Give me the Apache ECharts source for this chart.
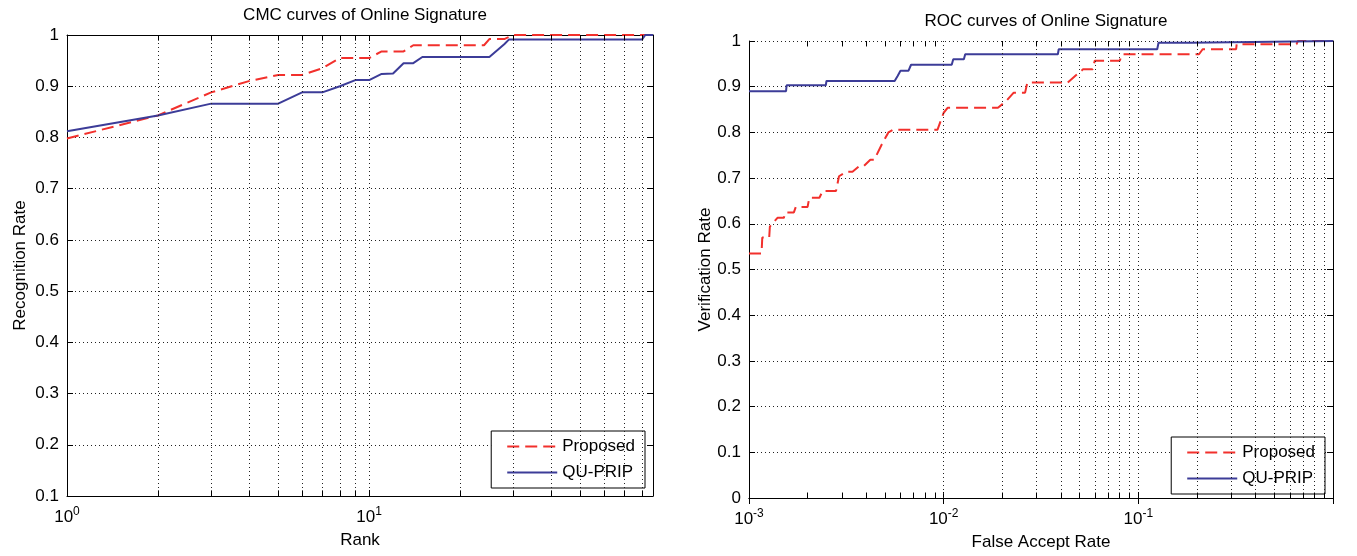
<!DOCTYPE html>
<html><head><meta charset="utf-8">
<script src="https://cdn.jsdelivr.net/npm/echarts@6/dist/echarts.min.js"></script>
<style>html,body{margin:0;padding:0;background:#fff}#c{width:1357px;height:556px}</style>
</head><body><div id="c"></div>
<script>
// ---- data ----
const seriesNames = ['Proposed', 'QU-PRIP'];
const titles = ['CMC curves of Online Signature', 'ROC curves of Online Signature'];
const xNames = ['Rank', 'False Accept Rate'];
const yNames = ['Recognition Rate', 'Verification Rate'];

// CMC: [rank, recognition rate]
const cmcProposed = [[1,0.798],[2,0.843],[3,0.888],[4,0.910],[5,0.922],[6,0.922],[7,0.935],[8,0.955],[10,0.955],[11,0.968],[13,0.968],[14,0.980],[24,0.980],[25,0.992],[28,0.992],[30,1.0],[87,1.0]];
const cmcQuprip = [[1,0.812],[2,0.843],[3,0.866],[5,0.866],[6,0.888],[7,0.888],[8,0.900],[9,0.912],[10,0.912],[11,0.924],[12,0.925],[13,0.945],[14,0.945],[15,0.957],[25,0.957],[28,0.982],[29,0.991],[80,0.991],[82,1.0],[87,1.0]];

// ROC: [false accept rate, verification rate]
const rocProposed = [[0.001,0.535],[0.00116,0.535],[0.00117,0.570],[0.00127,0.570],[0.00128,0.594],[0.0014,0.613],[0.00151,0.613],[0.00154,0.625],[0.0017,0.625],[0.00174,0.637],[0.002,0.637],[0.00204,0.657],[0.0023,0.657],[0.00239,0.672],[0.0028,0.672],[0.0029,0.704],[0.00316,0.714],[0.0034,0.714],[0.0037,0.727],[0.0039,0.727],[0.0042,0.740],[0.0044,0.740],[0.0048,0.773],[0.0052,0.800],[0.0055,0.806],[0.0093,0.806],[0.0100,0.843],[0.0105,0.854],[0.019,0.854],[0.0209,0.868],[0.0229,0.887],[0.0262,0.887],[0.0269,0.909],[0.0433,0.909],[0.0475,0.924],[0.052,0.938],[0.0583,0.938],[0.0597,0.957],[0.0803,0.957],[0.0825,0.971],[0.205,0.971],[0.214,0.982],[0.318,0.982],[0.32,0.993],[0.65,0.993],[0.66,1.0],[1,1.0]];
const rocQuprip = [[0.001,0.890],[0.00155,0.890],[0.00156,0.903],[0.00248,0.903],[0.0025,0.9125],[0.0056,0.9125],[0.0058,0.9235],[0.006,0.935],[0.0066,0.935],[0.0068,0.948],[0.011,0.948],[0.0112,0.960],[0.0127,0.960],[0.0129,0.971],[0.0386,0.971],[0.039,0.982],[0.125,0.982],[0.127,0.996],[0.186,0.996],[0.188,1.0],[1,1.0]];

// axis ranges and minor (log) grid positions
const cmcXRange = [1, 87];
const cmcYRange = [0.1, 1];
const rocXRange = [0.001, 1];
const rocYRange = [0, 1];
const yStep = 0.1;
const cmcMinorX = [2,3,4,5,6,7,8,9,20,30,40,50,60,70,80];
const rocMinorX = [0.002,0.003,0.004,0.005,0.006,0.007,0.008,0.009,0.02,0.03,0.04,0.05,0.06,0.07,0.08,0.09,0.2,0.3,0.4,0.5,0.6,0.7,0.8,0.9];

// ---- styling ----
const RED = '#f2302c', BLUE = '#3c3c98';
const FONT = 'Liberation Sans';
const FS = 17;
const dotted = {color: '#222', type: [1, 3], width: 1};

function logLabel(v) {
  const e = Math.log10(v), r = Math.round(e);
  if (Math.abs(e - r) > 1e-6) return '';
  return '10{sup|' + r + '}';
}
function yLabel(v) { return String(Math.round(v * 10) / 10); }

function minorMarks(xs, yr, tickLen) {
  const data = xs.map(v => ({xAxis: v}));
  xs.forEach(v => {
    data.push([{coord: [v, yr[0]], lineStyle: {type: 'solid', color: '#000'}}, {coord: [v, yr[0] + tickLen]}]);
    data.push([{coord: [v, yr[1]], lineStyle: {type: 'solid', color: '#000'}}, {coord: [v, yr[1] - tickLen]}]);
  });
  return {silent: true, symbol: 'none', animation: false, label: {show: false},
    emphasis: {disabled: true}, lineStyle: dotted, data};
}

function xAxes(grid, range, name, gap) {
  const base = {gridIndex: grid, type: 'log', logBase: 10, min: range[0], max: range[1],
    axisLine: {show: true, lineStyle: {color: '#000', width: 1}},
    axisTick: {show: true, inside: true, length: 6, lineStyle: {color: '#000'}}};
  return [
    Object.assign({}, base, {position: 'bottom', name, nameLocation: 'middle', nameGap: gap,
      nameTextStyle: {fontFamily: FONT, fontSize: FS, color: '#000'},
      splitLine: {show: true, lineStyle: dotted},
      axisLabel: {show: true, margin: 10, fontFamily: FONT, fontSize: FS, color: '#000',
        showMaxLabel: false, formatter: logLabel,
        rich: {sup: {fontFamily: FONT, fontSize: 12, color: '#000', padding: [0, 0, 10, 0]}}}}),
    Object.assign({}, base, {position: 'top', axisLabel: {show: false}, splitLine: {show: false}})
  ];
}
function yAxes(grid, range, name, gap) {
  const base = {gridIndex: grid, type: 'value', min: range[0], max: range[1], interval: yStep,
    axisLine: {show: true, lineStyle: {color: '#000', width: 1}},
    axisTick: {show: true, inside: true, length: 6, lineStyle: {color: '#000'}}};
  return [
    Object.assign({}, base, {position: 'left', name, nameLocation: 'middle', nameGap: gap,
      nameTextStyle: {fontFamily: FONT, fontSize: FS, color: '#000'},
      splitLine: {show: true, lineStyle: dotted},
      axisLabel: {show: true, margin: 8, fontFamily: FONT, fontSize: FS, color: '#000', formatter: yLabel}}),
    Object.assign({}, base, {position: 'right', axisLabel: {show: false}, splitLine: {show: false}})
  ];
}

const chart = echarts.init(document.getElementById('c'), null, {renderer: 'canvas'});
const legendBase = {orient: 'vertical', itemWidth: 50, itemHeight: 14, itemGap: 9,
  padding: [7, 10, 7, 15], borderColor: '#000', borderWidth: 1, backgroundColor: '#fff',
  selectedMode: false, data: seriesNames,
  itemStyle: {opacity: 0, borderWidth: 0},
  textStyle: {fontFamily: FONT, fontSize: FS, color: '#000'}};

const option = {
  animation: false,
  backgroundColor: '#fff',
  title: [
    {text: titles[0], left: 360, top: 2, textAlign: 'center',
      textStyle: {fontFamily: FONT, fontSize: FS, fontWeight: 'normal', color: '#000'}},
    {text: titles[1], left: 1041, top: 8, textAlign: 'center',
      textStyle: {fontFamily: FONT, fontSize: FS, fontWeight: 'normal', color: '#000'}}
  ],
  legend: [
    Object.assign({}, legendBase, {right: 712, top: 431}),
    Object.assign({}, legendBase, {right: 32, top: 437})
  ],
  grid: [
    {left: 67, top: 35, width: 586, height: 461},
    {left: 749, top: 41, width: 584, height: 460}
  ],
  xAxis: [].concat(xAxes(0, cmcXRange, xNames[0], 36), xAxes(1, rocXRange, xNames[1], 36)),
  yAxis: [].concat(yAxes(0, cmcYRange, yNames[0], 38), yAxes(1, rocYRange, yNames[1], 32)),
  series: [
    {name: seriesNames[0], type: 'line', xAxisIndex: 0, yAxisIndex: 0, data: cmcProposed,
      symbol: 'none', z: 3, lineStyle: {color: RED, width: 2, type: [12, 6]}, itemStyle: {color: RED},
      markLine: minorMarks(cmcMinorX, cmcYRange, 0.011)},
    {name: seriesNames[1], type: 'line', xAxisIndex: 0, yAxisIndex: 0, data: cmcQuprip,
      symbol: 'none', z: 4, lineStyle: {color: BLUE, width: 2}, itemStyle: {color: BLUE}},
    {name: seriesNames[0], type: 'line', xAxisIndex: 2, yAxisIndex: 2, data: rocProposed,
      symbol: 'none', z: 3, lineStyle: {color: RED, width: 2, type: [12, 6]}, itemStyle: {color: RED},
      markLine: minorMarks(rocMinorX, rocYRange, 0.012)},
    {name: seriesNames[1], type: 'line', xAxisIndex: 2, yAxisIndex: 2, data: rocQuprip,
      symbol: 'none', z: 4, lineStyle: {color: BLUE, width: 2}, itemStyle: {color: BLUE}}
  ]
};
chart.setOption(option);
</script>
</body></html>
